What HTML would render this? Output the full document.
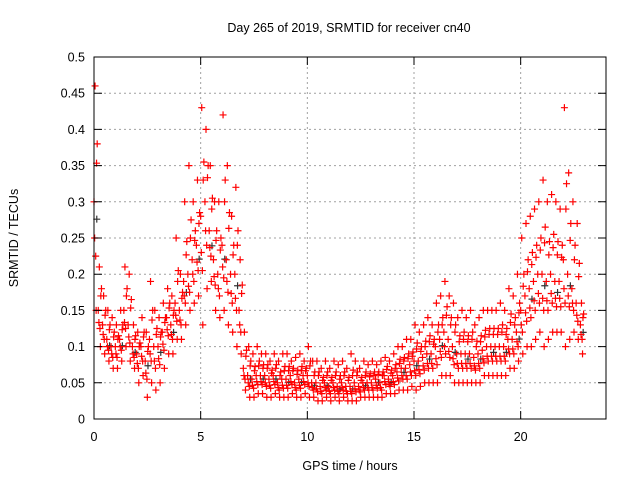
<!DOCTYPE html>
<html><head><meta charset="utf-8"><style>
html,body{margin:0;padding:0;background:#fff;}
svg text{font-family:"Liberation Sans",sans-serif;font-size:12.5px;fill:#000;}
</style></head><body>
<svg id="chart" width="640" height="480" xmlns="http://www.w3.org/2000/svg">
<rect width="640" height="480" fill="#fff"/>
<text x="349" y="32" text-anchor="middle">Day 265 of 2019, SRMTID for receiver cn40</text>
<text x="350" y="470" text-anchor="middle">GPS time / hours</text>
<text transform="translate(18,238) rotate(-90)" text-anchor="middle">SRMTID / TECUs</text>
<g id="grid"></g><g id="marks"></g><g id="axes"></g>
</svg>
<script>
const xTicks=[0,5,10,15,20];
const yTicks=[0,0.05,0.1,0.15,0.2,0.25,0.3,0.35,0.4,0.45,0.5];
const yTickLabels=["0","0.05","0.1","0.15","0.2","0.25","0.3","0.35","0.4","0.45","0.5"];
const hourStep=0.2;
const midVals=[.30,.15,.13,.11,.10, .10,.11,.15,.13,.10, .09,.10,.08,.11,.10, .10,.12,.14,.13,.16, .15,.19,.20,.22,.24, .28,.30,.26,.22,.20, .24,.22,.20,.20,.15, .07,.06,.055,.06,.06, .06,.055,.06,.05,.055, .055,.06,.05,.055,.06, .06,.05,.05,.045,.05, .045,.05,.045,.05,.045, .045,.05,.045,.05,.05, .05,.055,.05,.06,.055, .06,.065,.07,.07,.075, .08,.08,.085,.09,.09, .10,.11,.12,.11,.10, .09,.09,.09,.09,.085, .09,.095,.10,.10,.10, .10,.10,.11,.11,.12, .15,.17,.18,.19,.20, .20,.19,.20,.19,.19, .22,.20,.18,.16,.13];
const highVals=[.46,.21,.17,.15,.14, .13,.15,.21,.20,.13, .12,.14,.12,.19,.15, .14,.16,.18,.17,.25, .20,.30,.35,.30,.33, .43,.40,.35,.30,.30, .42,.35,.28,.32,.22, .12,.10,.09,.10,.09, .09,.08,.09,.08,.09, .09,.08,.085,.09,.08, .10,.08,.08,.07,.08, .07,.08,.075,.08,.07, .09,.08,.07,.08,.075, .08,.075,.08,.085,.08, .09,.10,.10,.11,.11, .13,.12,.13,.14,.13, .16,.17,.19,.17,.16, .14,.15,.14,.15,.13, .14,.15,.15,.15,.15, .16,.15,.18,.17,.20, .25,.27,.28,.29,.30, .33,.30,.31,.30,.29, .43,.34,.30,.27,.16];
const lowVals=[.15,.10,.09,.08,.07, .07,.08,.10,.08,.07, .05,.06,.03,.05,.04, .05,.07,.09,.09,.11, .11,.13,.15,.16,.17, .13,.18,.19,.15,.14, .15,.13,.12,.10,.09, .04,.03,.03,.035,.035, .03,.03,.035,.03,.03, .03,.035,.03,.03,.035, .03,.03,.025,.025,.03, .025,.03,.025,.03,.025, .025,.025,.03,.03,.03, .03,.03,.03,.035,.035, .035,.04,.04,.04,.045, .04,.045,.05,.05,.05, .05,.06,.06,.06,.05, .05,.05,.05,.05,.05, .05,.06,.06,.06,.06, .06,.06,.07,.07,.08, .09,.10,.10,.11,.12, .10,.11,.12,.12,.12, .10,.11,.12,.11,.09];
const X0=94,X1=606,Y0=419,Y1=57;
const xs=v=>X0+v/24*(X1-X0);
const ys=v=>Y0-v/0.5*(Y0-Y1);
const NS="http://www.w3.org/2000/svg";
function mk(tag,attrs,parent){const e=document.createElementNS(NS,tag);for(const k in attrs)e.setAttribute(k,attrs[k]);parent.appendChild(e);return e;}
const grid=document.getElementById('grid'),axes=document.getElementById('axes'),marks=document.getElementById('marks');
yTicks.forEach((t,i)=>{
  const y=ys(t);
  if(i>0&&i<yTicks.length-1){const g=mk('line',{x1:X0,x2:X1,y1:y,y2:y,stroke:'#a0a0a0','stroke-dasharray':'2,3'},grid);
  
  }
  const tk=mk('path',{d:`M${X0} ${y}h8M${X1} ${y}h-8`,stroke:'#000'},axes);
  
  
  const tx=mk('text',{x:X0-9,y:y+4.5,'text-anchor':'end'},axes);tx.textContent=yTickLabels[i];
  
  
});
xTicks.forEach(t=>{
  const x=xs(t);
  if(t>0){const g=mk('line',{x1:x,x2:x,y1:Y0,y2:Y1,stroke:'#a0a0a0','stroke-dasharray':'2,3'},grid);
  
  }
  const tk=mk('path',{d:`M${x} ${Y0}v-8M${x} ${Y1}v8`,stroke:'#000'},axes);
  
  
  const tx=mk('text',{x:x,y:Y0+22,'text-anchor':'middle'},axes);tx.textContent=String(t);
  
  
});
const box=mk('rect',{x:X0,y:Y1,width:X1-X0,height:Y0-Y1,fill:'none',stroke:'#000'},axes);


function plus(x,y,col,name){
  const p=mk('path',{d:`M${x-3.5} ${y}h7M${x} ${y-3.5}v7`,stroke:col,'stroke-width':1.2},marks);
  
  
}
midVals.forEach((v,i)=>{if(i%3===0){const t=i*hourStep;plus(xs(t+0.13),ys(v*0.92),'#333','black-point');}});
midVals.forEach((v,i)=>{
  const t=i*hourStep;
  const h=highVals[i],l=lowVals[i];
  plus(xs(t),ys(v),'#f00','red-point');
  plus(xs(t+0.05),ys(h),'#f00','red-point');
  plus(xs(t+0.1),ys(l),'#f00','red-point');
  plus(xs(t+0.15),ys((v+h)/2),'#f00','red-point');
  plus(xs(t+0.08),ys((v+l)/2),'#f00','red-point');
  plus(xs(t+0.12),ys((2*v+h)/3),'#f00','red-point');
  plus(xs(t+0.03),ys((2*v+l)/3),'#f00','red-point');
});
</script>
</body></html>
